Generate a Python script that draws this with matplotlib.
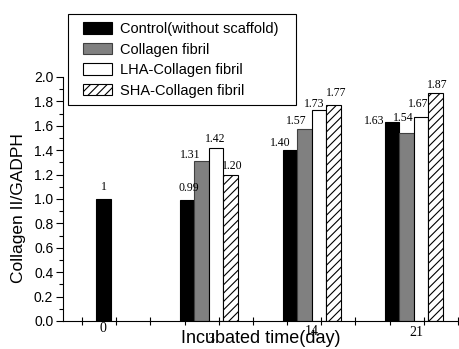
"""Collagen II / GADPH expression over incubation time, grouped bars."""

import matplotlib.pyplot as plt
import numpy as np
from matplotlib.patches import Rectangle
from matplotlib.ticker import MultipleLocator

plt.rcParams["font.family"] = ["Liberation Sans", "DejaVu Sans"]
plt.rcParams["hatch.linewidth"] = 0.8

# data
days = ["0", "3", "14", "21"]
series = ["Control(without scaffold)", "Collagen fibril",
          "LHA-Collagen fibril", "SHA-Collagen fibril"]
control = [1.00, 0.99, 1.40, 1.63]
collagen = [np.nan, 1.31, 1.57, 1.54]
lha = [np.nan, 1.42, 1.73, 1.67]
sha = [np.nan, 1.20, 1.77, 1.87]

# layout (x in tick units, label nudges in pixels)
group_x = np.array([0.63, 3.71, 6.72, 9.71])
bar_w = 0.424
nudges = [
    [(0, 12), (2, 12), (-10, 7), (-18, 1)],
    [None, (-11, 6), (-8, 8), (-3, 15)],
    [None, (-1, 9), (-5, 6), (-3, 13)],
    [None, (2, 9), (3, 12), (2, 8)],
]
styles = [
    dict(color="black", edgecolor="black"),
    dict(color="#808080", edgecolor="#404040"),
    dict(color="white", edgecolor="black"),
    dict(color="white", edgecolor="black", hatch="////"),
]
W, H = 459, 349


def fmt(v):
    return f"{v:g}" if float(v).is_integer() else f"{v:.2f}"


def main() -> None:
    fig = plt.figure(figsize=(W / 100, H / 100), dpi=100)
    ax = fig.add_axes([63 / W, 28 / H, 396 / W, 244 / H])

    values = [control, collagen, lha, sha]
    handles = []
    for k, (vals, st) in enumerate(zip(values, styles)):
        vals = np.asarray(vals, dtype=float)
        xs = group_x + (k - 1.5) * bar_w
        xs[0] = group_x[0]  # day 0 only has the control bar
        ok = ~np.isnan(vals)
        bars = ax.bar(xs[ok], vals[ok], width=bar_w, linewidth=0.8,
                      label=series[k], **st)
        handles.append(bars)
        for x, v, nd in zip(xs, vals, nudges[k]):
            if np.isnan(v):
                continue
            ax.annotate(fmt(v), (x, v), xytext=nd, textcoords="offset pixels",
                        ha="center", va="center", fontsize=8.5,
                        family="Liberation Serif")

    ax.set_xlim(-0.56, 11.03)
    ax.set_ylim(0, 2.0)
    ax.spines["top"].set_visible(False)
    ax.spines["right"].set_visible(False)
    ax.spines["left"].set_bounds(0, 2.0)

    ax.set_xticks(np.arange(0, 12))
    ax.set_xticklabels([])
    ax.tick_params(axis="x", direction="inout", length=6, width=0.8)
    ax.yaxis.set_major_locator(MultipleLocator(0.2))
    ax.yaxis.set_minor_locator(MultipleLocator(0.1))
    ax.yaxis.set_major_formatter(plt.FormatStrFormatter("%.1f"))
    ax.tick_params(axis="y", which="major", direction="out", length=5,
                   width=0.8, labelsize=10, pad=2)
    ax.tick_params(axis="y", which="minor", direction="out", length=3,
                   width=0.8)

    # category labels sit at uneven heights in the original
    lab_x = [0.61, 3.77, 6.73, 9.79]
    lab_y = [-0.029, -0.074, -0.045, -0.049]
    tr = ax.get_xaxis_transform()
    for d, x, y in zip(days, lab_x, lab_y):
        ax.text(x, y, d, transform=tr, ha="center", va="center",
                fontsize=10, family="Liberation Serif")

    ax.set_ylabel("Collagen II/GADPH", fontsize=12.5)
    ax.yaxis.set_label_coords(-0.093, 0.461)
    ax.set_xlabel("Incubated time(day)", fontsize=13)
    ax.xaxis.set_label_coords(0.5, -0.035)

    # legend box drawn by hand so the inner padding can match
    fig.patches.append(Rectangle((68 / W, 1 - 105 / H), 228 / W, 91 / H,
                                 transform=fig.transFigure, fill=False,
                                 edgecolor="black", linewidth=0.8, zorder=5))
    ax.legend(handles=handles, loc="upper left",
              bbox_to_anchor=(82.5 / W, 1 - 22 / H),
              bbox_transform=fig.transFigure, fontsize=10.5,
              frameon=False, borderpad=0, borderaxespad=0,
              handlelength=2.0, handleheight=0.85, handletextpad=0.55,
              labelspacing=0.45)

    fig.savefig("out.png", dpi=100)
    plt.close(fig)


if __name__ == "__main__":
    main()
